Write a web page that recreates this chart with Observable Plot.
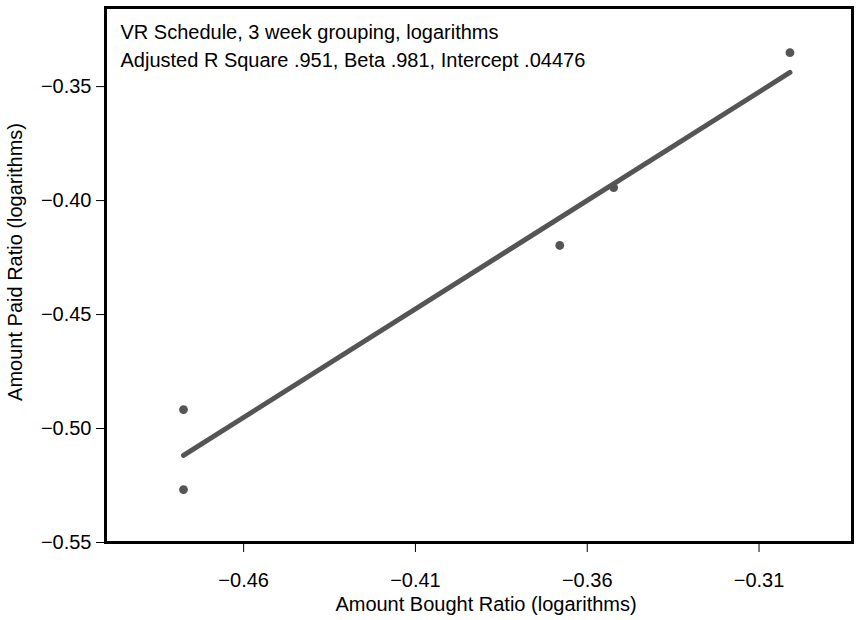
<!DOCTYPE html>
<html>
<head>
<meta charset="utf-8">
<script src="https://cdn.jsdelivr.net/npm/d3@7"></script>
<script src="https://cdn.jsdelivr.net/npm/@observablehq/plot@0.6"></script>
<style>
  body { margin: 0; background: #fff; }
  #chart svg { display: block; }
</style>
</head>
<body>
<div id="chart"></div>
<script>
const amountBought = [-0.4775, -0.4775, -0.368, -0.3523, -0.301];
const amountPaid   = [-0.4917, -0.5268, -0.4197, -0.3943, -0.3351];
const xTicks = [-0.46, -0.41, -0.36, -0.31];
const yTicks = [-0.35, -0.40, -0.45, -0.50, -0.55];
const annotationLine1 = "VR Schedule, 3 week grouping, logarithms";
const annotationLine2 = "Adjusted R Square .951, Beta .981, Intercept .04476";
const xTitle = "Amount Bought Ratio (logarithms)";
const yTitle = "Amount Paid Ratio (logarithms)";

const data = amountBought.map((x, i) => ({x, y: amountPaid[i]}));
const fmt = d => "\u2212" + Math.abs(d).toFixed(2);
const font = "Liberation Sans, Arial, Helvetica, sans-serif";
const fs = 20;

const chart = Plot.plot({
  width: 857,
  height: 620,
  marginLeft: 105,
  marginRight: 5,
  marginTop: 7,
  marginBottom: 78,
  style: {fontFamily: font, fontSize: fs + "px", color: "#000", background: "#fff"},
  x: {domain: [-0.5002, -0.2828]},
  y: {domain: [-0.55, -0.3153]},
  marks: [
    Plot.axisX({ticks: xTicks, tickFormat: fmt, tickSize: 10, tickPadding: 20, label: null, fontSize: fs}),
    Plot.axisY({ticks: yTicks, tickFormat: fmt, tickSize: 9, tickPadding: 5, label: null, fontSize: fs}),
    Plot.linearRegressionY(data, {x: "x", y: "y", ci: 0, stroke: "#555", strokeWidth: 5}),
    Plot.dot(data, {x: "x", y: "y", r: 4.4, fill: "#555", stroke: null}),
    Plot.frame({stroke: "#000", strokeWidth: 3}),
    Plot.text([annotationLine1], {text: d => d, frameAnchor: "top-left", dx: 15, dy: 25, lineAnchor: "middle", textAnchor: "start", fontSize: fs, fill: "#000"}),
    Plot.text([annotationLine2], {text: d => d, frameAnchor: "top-left", dx: 15, dy: 53, lineAnchor: "middle", textAnchor: "start", fontSize: fs, fill: "#000"}),
    Plot.text([xTitle], {text: d => d, frameAnchor: "bottom", dx: 7, dy: 68, textAnchor: "middle", fontSize: fs, fill: "#000"}),
    Plot.text([yTitle], {text: d => d, frameAnchor: "left", dx: -90, dy: -13, rotate: -90, textAnchor: "middle", lineAnchor: "middle", fontSize: fs, fill: "#000"})
  ]
});
document.getElementById("chart").appendChild(chart);
</script>
</body>
</html>
